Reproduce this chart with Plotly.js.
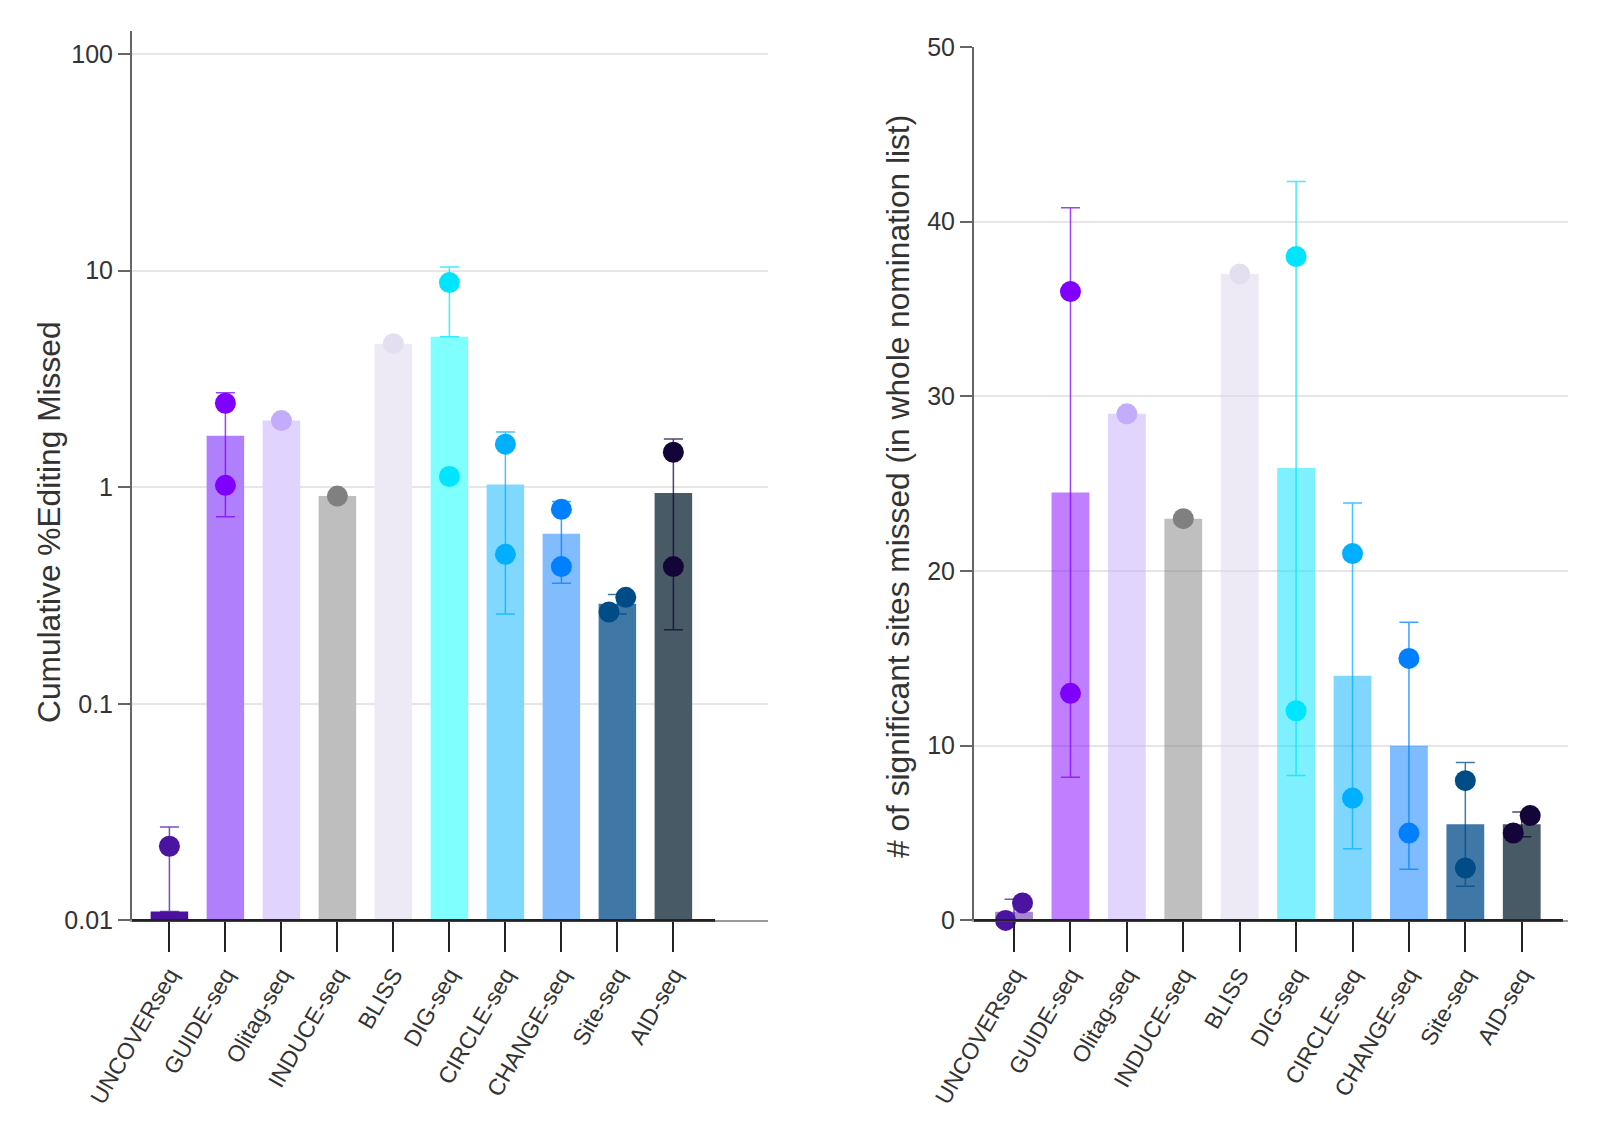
<!DOCTYPE html>
<html>
<head>
<meta charset="utf-8">
<script src="https://cdn.plot.ly/plotly-3.0.1.min.js"></script>
<style>
  body { margin: 0; background: #fff; }
  #chart { width: 1600px; height: 1130px; }
</style>
</head>
<body>
<div id="chart"></div>
<script>
// methods, left to right
const methods = ['UNCOVERseq', 'GUIDE-seq', 'Olitag-seq', 'INDUCE-seq', 'BLISS',
                 'DIG-seq', 'CIRCLE-seq', 'CHANGE-seq', 'Site-seq', 'AID-seq'];

// left panel: cumulative % editing missed (log axis)
const pctMean     = [0.011, 1.73, 2.03, 0.91, 4.6, 4.95, 1.03, 0.61, 0.29, 0.94];
const pctRep1     = [0.022, 2.44, 2.03, 0.91, 4.6, 8.8, 1.58, 0.79, 0.265, 1.45];
const pctRep2     = [0, 1.02, null, null, null, 1.12, 0.49, 0.43, 0.31, 0.43];
const pctErrPlus  = [0.016, 1.0, 0, 0, 0, 5.45, 0.77, 0.25, 0.03, 0.73];
const pctErrMinus = [0.016, 1.0, 0, 0, 0, 5.45, 0.77, 0.25, 0.03, 0.72];

// right panel: # of significant sites missed
const sitesMean     = [0.5, 24.5, 29, 23, 37, 25.9, 14, 10, 5.5, 5.5];
const sitesRep1     = [0, 36, 29, 23, 37, 38, 21, 15, 8, 5];
const sitesRep2     = [1, 13, null, null, null, 12, 7, 5, 3, 6];
const sitesErrPlus  = [0.71, 16.3, 0, 0, 0, 16.4, 9.9, 7.07, 3.54, 0.71];
const sitesErrMinus = [0.71, 16.3, 0, 0, 0, 17.6, 9.9, 7.07, 3.54, 0.71];

// colours
const dotColors = ['#4b14a0', '#8000ff', '#c4acfd', '#808080', '#e3dff0',
                   '#00e5ff', '#00b0ff', '#0080ff', '#004c87', '#140538'];
const pctBarColors = ['#4b12a0', '#b07ffc', '#e0d4fe', '#bebebe', '#edeaf6',
                      '#80ffff', '#80d8ff', '#80bcff', '#3f77a6', '#485a66'];
const sitesBarColors = ['rgba(75,20,160,0.5)', 'rgba(128,0,255,0.5)', 'rgba(196,172,253,0.5)',
                        'rgba(128,128,128,0.5)', 'rgba(220,214,238,0.5)', 'rgba(0,225,255,0.5)',
                        'rgba(0,176,255,0.5)', 'rgba(0,120,255,0.5)', '#3f77a6', '#485a66'];

const W = 1600, H = 1130;
const FONT = '"Liberation Sans", Arial, sans-serif';
const TXT = '#333';
const DOT = 21;
const BARW = 0.67;

const leftX = [-0.668, 10.69], rightX = [-0.71, 9.82];
const leftY = [-2, 2.108], rightY = [0, 50];
const domLX = [132 / W, 768 / W], domRX = [974 / W, 1568 / W];
const domLY = [1 - 920.4 / H, 1 - 30.6 / H], domRY = [1 - 920.4 / H, 1 - 47 / H];

function hexAlpha(hex, a) {
  const n = parseInt(hex.slice(1), 16);
  return 'rgba(' + (n >> 16) + ',' + ((n >> 8) & 255) + ',' + (n & 255) + ',' + a + ')';
}

// replicate dots; two dots that would overlap are nudged sideways
function buildDots(rep1, rep2, toPx, xa, ya) {
  const x = [], y = [], c = [];
  methods.forEach(function (m, i) {
    const vals = [rep1[i], rep2[i]]
      .filter(v => v !== null && isFinite(toPx(v)))
      .sort((a, b) => a - b);
    let offs = vals.map(() => 0);
    if (vals.length === 2 && Math.abs(toPx(vals[1]) - toPx(vals[0])) < DOT) offs = [-0.15, 0.15];
    vals.forEach(function (v, k) {
      x.push(i + offs[k]); y.push(v); c.push(dotColors[i]);
    });
  });
  return {
    type: 'scatter', mode: 'markers', x: x, y: y, xaxis: xa, yaxis: ya,
    marker: { size: DOT, color: c, line: { width: 0 } },
    cliponaxis: false, showlegend: false, hoverinfo: 'skip'
  };
}

// on the log panel an error bar that would reach zero keeps only its upper half
function buildBars(means, plus, minus, colors, xa, ya, isLog) {
  return methods.map(function (m, i) {
    const lo = (isLog && means[i] - minus[i] <= 0) ? 0 : minus[i];
    return {
      type: 'bar', x: [i], y: [means[i]], width: BARW, xaxis: xa, yaxis: ya,
      marker: { color: colors[i], line: { width: 0 } },
      error_y: {
        type: 'data', symmetric: false, array: [plus[i]], arrayminus: [lo],
        color: hexAlpha(dotColors[i], 0.75), thickness: 1.5, width: 9.5
      },
      showlegend: false, hoverinfo: 'skip'
    };
  });
}

const pxDecade = (domLY[1] - domLY[0]) * H / (leftY[1] - leftY[0]);
const pxUnit = (domRY[1] - domRY[0]) * H / (rightY[1] - rightY[0]);

const traces = []
  .concat(buildBars(pctMean, pctErrPlus, pctErrMinus, pctBarColors, 'x', 'y', true))
  .concat(buildBars(sitesMean, sitesErrPlus, sitesErrMinus, sitesBarColors, 'x2', 'y2', false));
traces.push(buildDots(pctRep1, pctRep2, v => Math.log10(v) * pxDecade, 'x', 'y'));
traces.push(buildDots(sitesRep1, sitesRep2, v => v * pxUnit, 'x2', 'y2'));

function xAxis(range, domain, anchor) {
  return {
    domain: domain, range: range, anchor: anchor, fixedrange: true,
    tickvals: methods.map((m, i) => i), ticktext: methods, tickangle: -60,
    tickfont: { family: FONT, size: 23, color: TXT },
    ticks: 'outside', ticklen: 30, tickwidth: 2, tickcolor: '#222',
    showline: true, linecolor: '#999', linewidth: 2,
    showgrid: false, zeroline: false, automargin: false
  };
}
function yAxis(extra) {
  return Object.assign({
    fixedrange: true,
    tickfont: { family: FONT, size: 25, color: TXT },
    ticks: 'outside', ticklen: 12, tickwidth: 2, tickcolor: '#666',
    showline: true, linecolor: '#666', linewidth: 2,
    showgrid: true, gridcolor: '#e6e6e6', gridwidth: 2,
    zeroline: false, automargin: false
  }, extra);
}

const layout = {
  width: W, height: H,
  margin: { l: 0, r: 0, t: 0, b: 0 },
  paper_bgcolor: '#fff', plot_bgcolor: '#fff',
  barmode: 'overlay', showlegend: false,
  font: { family: FONT, color: TXT },
  xaxis: xAxis(leftX, domLX, 'y'),
  yaxis: yAxis({
    type: 'log', range: leftY, domain: domLY, anchor: 'x',
    tickvals: [0.01, 0.1, 1, 10, 100], ticktext: ['0.01', '0.1', '1', '10', '100']
  }),
  xaxis2: xAxis(rightX, domRX, 'y2'),
  yaxis2: yAxis({
    range: rightY, domain: domRY, anchor: 'x2',
    tickvals: [0, 10, 20, 30, 40, 50]
  }),
  shapes: [
    { type: 'line', xref: 'x', yref: 'y domain', x0: leftX[0], x1: 9.745, y0: 0, y1: 0,
      line: { color: '#222', width: 2.6 }, layer: 'above' },
    { type: 'line', xref: 'x2', yref: 'y2 domain', x0: rightX[0], x1: 9.73, y0: 0, y1: 0,
      line: { color: '#222', width: 2.6 }, layer: 'above' }
  ],
  annotations: [
    { text: 'Cumulative %Editing Missed', xref: 'paper', yref: 'paper',
      x: 49 / W, y: 1 - 522 / H, xanchor: 'center', yanchor: 'middle',
      textangle: -90, showarrow: false,
      font: { family: FONT, size: 31.7, color: TXT } },
    { text: '# of significant sites missed (in whole nomination list)', xref: 'paper', yref: 'paper',
      x: 898 / W, y: 1 - 487 / H, xanchor: 'center', yanchor: 'middle',
      textangle: -90, showarrow: false,
      font: { family: FONT, size: 31.7, color: TXT } }
  ]
};

Plotly.newPlot('chart', traces, layout, { displayModeBar: false, staticPlot: true });
</script>
</body>
</html>
